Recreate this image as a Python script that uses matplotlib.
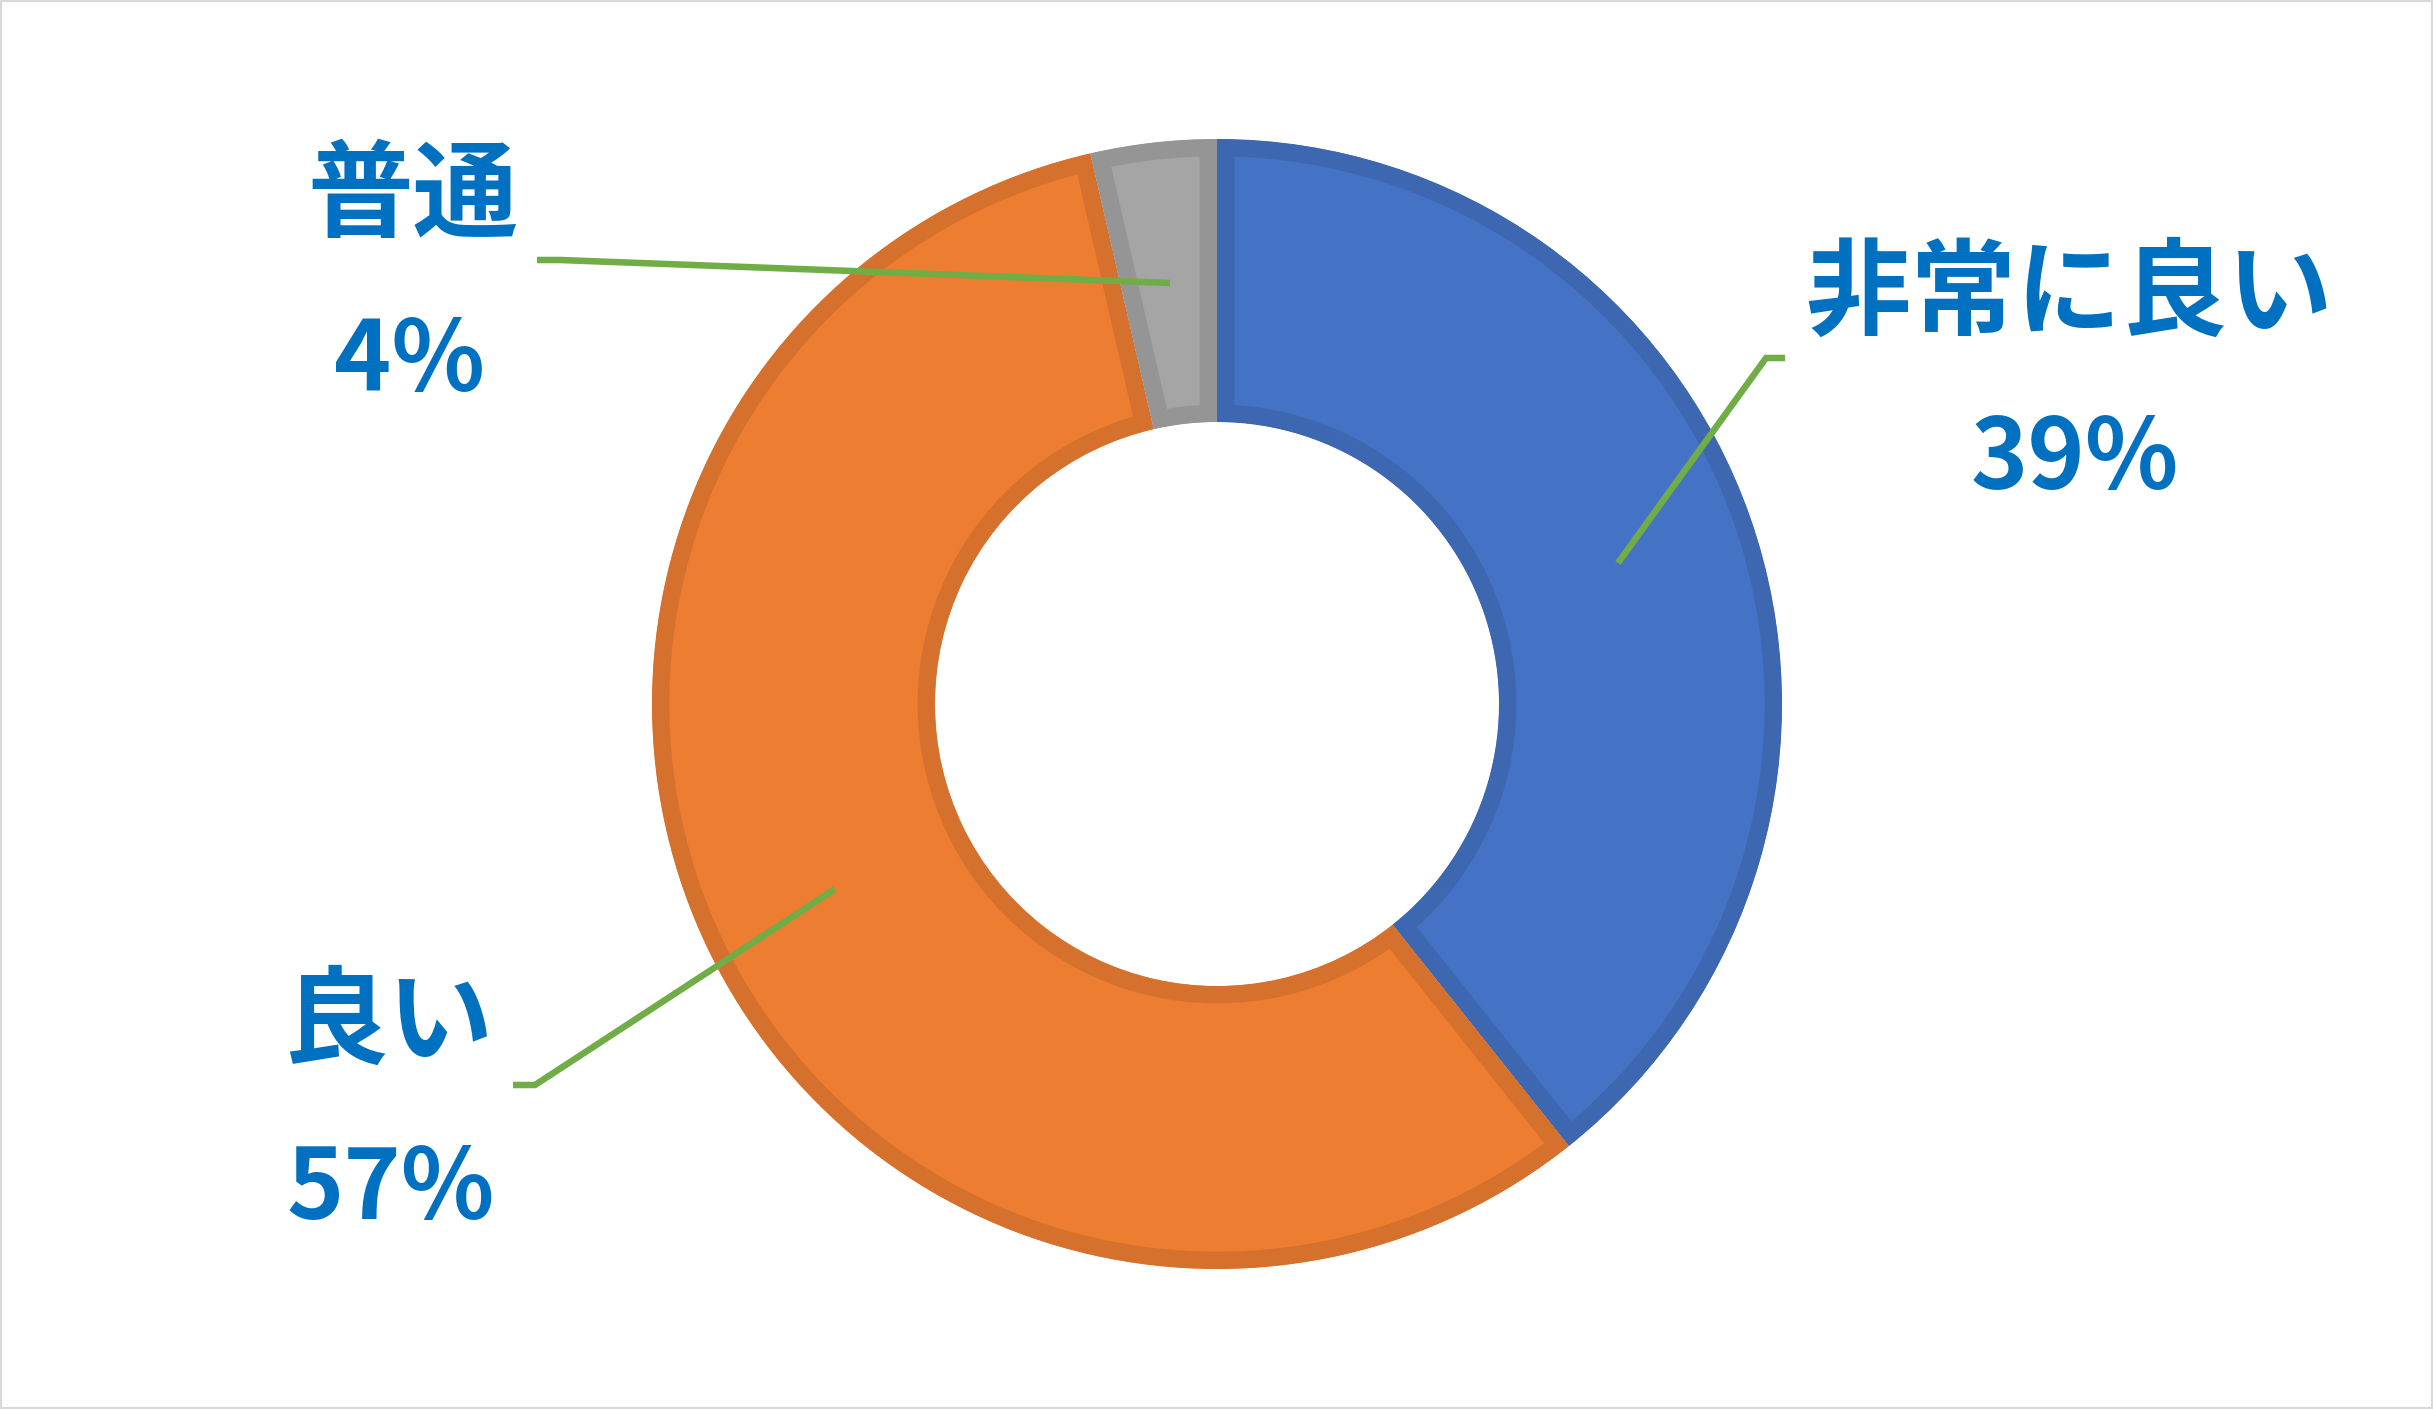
import matplotlib
matplotlib.use("Agg")
import matplotlib.pyplot as plt
from matplotlib import font_manager
from matplotlib.patches import Rectangle

# data (shares; labels show the rounded values)
LABELS   = ['非常に良い', '良い', '普通']
VALUES   = [39.3, 57.1, 3.6]
PCT_TXT  = ['39%', '57%', '4%']

FILLS = ['#4472C4', '#ED7D31', '#A5A5A5']
EDGES = ['#3D67B0', '#D5712C', '#959595']
TEXT_C  = '#0070C0'
LEADER  = '#70AD47'

W, H = 2433, 1409
CX, CY = 1217, 704          # donut centre, pixels from top-left
R_OUT, R_W = 565, 283

plt.rcParams['font.family'] = ['Noto Sans CJK JP', 'DejaVu Sans']

# narrower digits if available (closer to the Calibri-style numbers)
installed = {f.name for f in font_manager.fontManager.ttflist}
if 'Liberation Sans Narrow' in installed:
    pct_font, pct_size = ['Liberation Sans Narrow', 'Noto Sans CJK JP'], 78
else:
    pct_font, pct_size = ['Noto Sans CJK JP', 'DejaVu Sans'], 70

fig = plt.figure(figsize=(W / 100, H / 100), dpi=100)
fig.patch.set_facecolor('white')
ax = fig.add_axes([0, 0, 1, 1])

wedges, _ = ax.pie(VALUES, radius=R_OUT, center=(CX, H - CY), startangle=90,
                   counterclock=False, colors=FILLS,
                   wedgeprops=dict(width=R_W, linewidth=25))
# stroke drawn only on the inside of each slice
for w, ec in zip(wedges, EDGES):
    w.set_edgecolor(ec)
    w.set_clip_on(True)
    w.set_clip_path(w)

ax.set_xlim(0, W)
ax.set_ylim(0, H)
ax.set_aspect('equal')
ax.axis('off')

# label positions (pixels, y from top): name, percent, leader polyline
name_pos = [(2069, 295), (388, 1024), (413, 198)]
pct_pos  = [(2075, 460), (391, 1191), (410, 363)]
leaders  = [[(1785, 358), (1766, 358), (1618, 563)],
            [(513, 1085), (535, 1085), (835, 889)],
            [(537, 260), (560, 260), (1170, 283)]]

for lab, pct, (nx, ny), (px, py), pts in zip(LABELS, PCT_TXT, name_pos, pct_pos, leaders):
    ax.text(nx, H - ny, lab, fontsize=76, fontweight='bold', color=TEXT_C,
            ha='center', va='center')
    ax.text(px, H - py, pct, fontsize=pct_size, fontweight='bold', color=TEXT_C,
            family=pct_font, ha='center', va='center')
    xs = [p[0] for p in pts]
    ys = [H - p[1] for p in pts]
    ax.plot(xs, ys, color=LEADER, linewidth=4.7, solid_joinstyle='miter',
            solid_capstyle='butt', zorder=5)

fig.patches.append(Rectangle((0, 0), 1, 1, transform=fig.transFigure,
                             fill=False, edgecolor='#D9D9D9', linewidth=3))

fig.savefig('out.png', dpi=100)
